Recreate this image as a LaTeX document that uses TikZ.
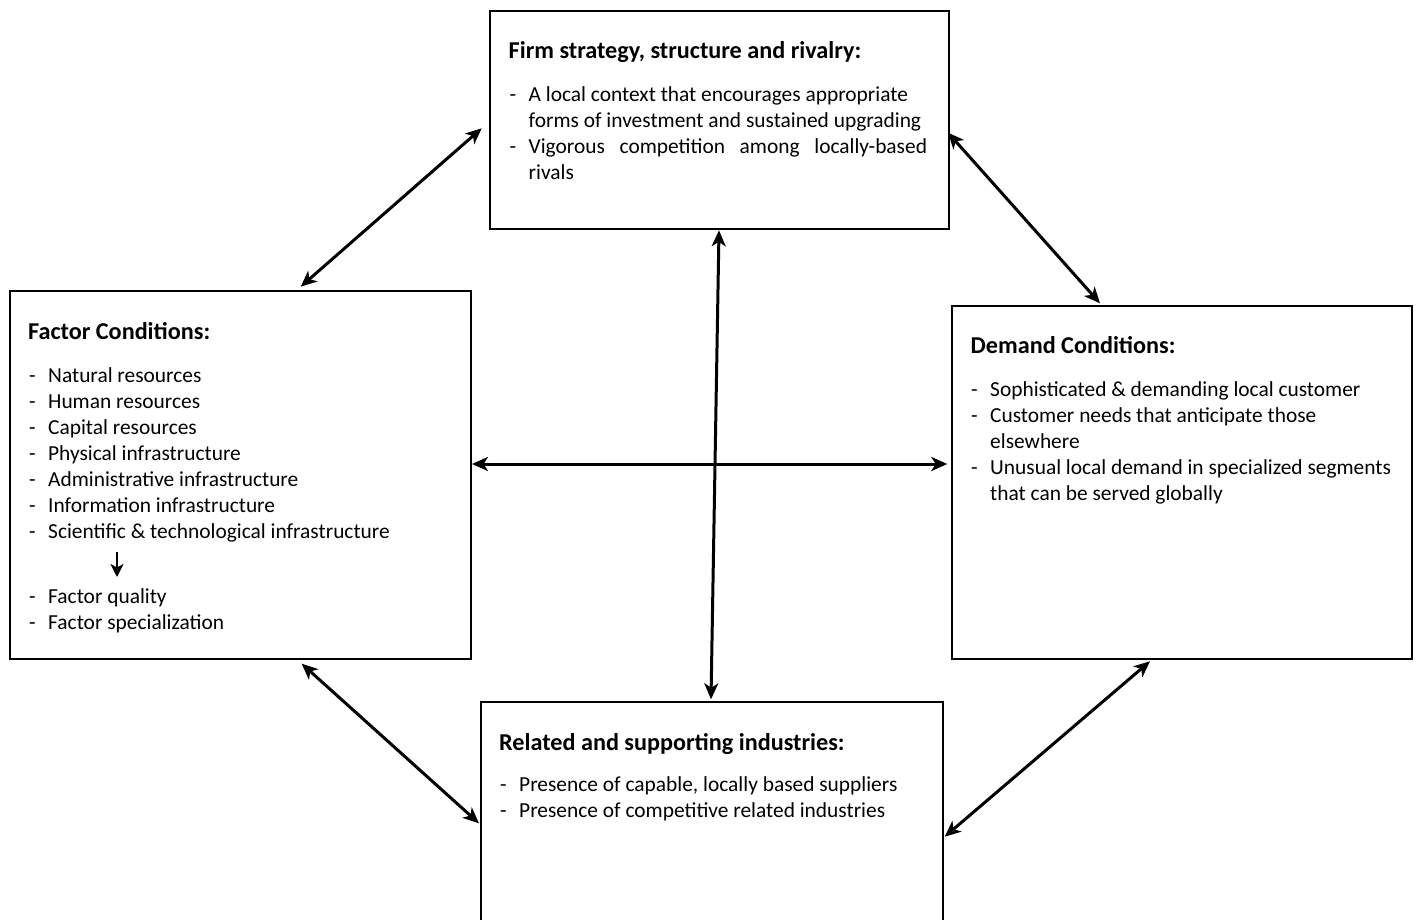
\documentclass[tikz,border=0pt]{standalone}
\usepackage{fontspec}
\setmainfont{Carlito}
\usetikzlibrary{arrows.meta}

% bullet marker with a fixed indent
\newcommand{\dashmark}{\makebox[19pt][l]{-}}
\newcommand{\hangin}{\hspace*{19pt}}
% use the font's own interword spacing
\newcommand{\natspace}{\spaceskip=0pt\relax\xspaceskip=0pt\relax}

\begin{document}
\begin{tikzpicture}[x=1pt,y=-1pt,
  panel/.style={draw=black, line width=2pt, fill=white, inner sep=0pt, anchor=north west},
  heading/.style={anchor=base west, inner sep=0pt, font=\fontsize{24.2}{28}\selectfont\bfseries},
  body/.style={anchor=base west, inner sep=0pt, text width=440pt, align=flush left,
               font=\fontsize{21.4}{26}\selectfont},
  link/.style={line width=3pt,
               {Stealth[length=16pt,width=14pt,inset=4.5pt]}-{Stealth[length=16pt,width=14pt,inset=4.5pt]}},
  step arrow/.style={line width=2pt, -{Stealth[length=13pt,width=13pt,inset=3.5pt]}}
]
\useasboundingbox (0,0) rectangle (1416,920);
\fill[white] (0,0) rectangle (1416,920);

% the four panels
\node[panel, minimum width=459pt, minimum height=218pt] (fs) at (489,10) {};
\node[panel, minimum width=461pt, minimum height=368pt] (fc) at (9,290) {};
\node[panel, minimum width=460pt, minimum height=353pt] (dc) at (951,305) {};
\node[panel, minimum width=462pt, minimum height=260pt] (rs) at (480,701) {};

% firm strategy
\node[heading] (fs-title) at (508.5,58.3) {Firm strategy, structure and rivalry:};
\node[body] (fs-list) at (509.5,101.7) {\natspace
  \dashmark A local context that encourages appropriate\\
  \hangin forms of investment and sustained upgrading\\
  \dashmark\makebox[398.4pt][s]{Vigorous competition among locally-based}\\
  \hangin rivals};

% factor conditions
\node[heading] (fc-title) at (28,339) {Factor Conditions:};
\node[body] (fc-list) at (29,382) {\natspace
  \dashmark Natural resources\\
  \dashmark Human resources\\
  \dashmark Capital resources\\
  \dashmark Physical infrastructure\\
  \dashmark Administrative infrastructure\\
  \dashmark Information infrastructure\\
  \dashmark Scientific \& technological infrastructure\\[39pt]
  \dashmark Factor quality\\
  \dashmark Factor specialization};

% demand conditions
\node[heading] (dc-title) at (970.5,353.3) {Demand Conditions:};
\node[body] (dc-list) at (971,396.7) {\natspace
  \dashmark Sophisticated \& demanding local customer\\
  \dashmark Customer needs that anticipate those\\
  \hangin elsewhere\\
  \dashmark Unusual local demand in specialized segments\\
  \hangin that can be served globally};

% related and supporting industries
\node[heading] (rs-title) at (499,750) {Related and supporting industries:};
\node[body] (rs-list) at (500,791.7) {\natspace
  \dashmark Presence of capable, locally based suppliers\\
  \dashmark Presence of competitive related industries};

% connector end points, placed along the panel borders
\coordinate (fs-l) at ([shift={(-7.3,118.3)}]fs.north west);
\coordinate (fc-t) at ([shift={(291.7,-3.3)}]fc.north west);
\coordinate (fs-r) at ([shift={(-2,122.7)}]fs.north east);
\coordinate (dc-t) at ([shift={(149,-1.7)}]dc.north west);
\coordinate (fs-b) at ([shift={(230,0.3)}]fs.south west);
\coordinate (rs-t) at ([shift={(231,-1.7)}]rs.north west);
\coordinate (fc-r) at ([shift={(0,174)}]fc.north east);
\coordinate (dc-l) at ([shift={(-3.7,159)}]dc.north west);
\coordinate (fc-b) at ([shift={(292.7,3.7)}]fc.south west);
\coordinate (rs-l) at ([shift={(-1,122.3)}]rs.north west);
\coordinate (dc-b) at ([shift={(199,1.3)}]dc.south west);
\coordinate (rs-r) at ([shift={(0.7,135.7)}]rs.north east);
\coordinate (fc-up) at ([shift={(108,261.7)}]fc.north west);
\coordinate (fc-down) at ([shift={(108,287)}]fc.north west);

% mutual influences
\draw[link] (fs-l) -- (fc-t);
\draw[link] (fs-r) -- (dc-t);
\draw[link] (fs-b) -- (rs-t);
\draw[link] (fc-r) -- (dc-l);
\draw[link] (fc-b) -- (rs-l);
\draw[link] (dc-b) -- (rs-r);

% basic factors lead to advanced factors
\draw[step arrow] (fc-up) -- (fc-down);
\end{tikzpicture}
\end{document}
